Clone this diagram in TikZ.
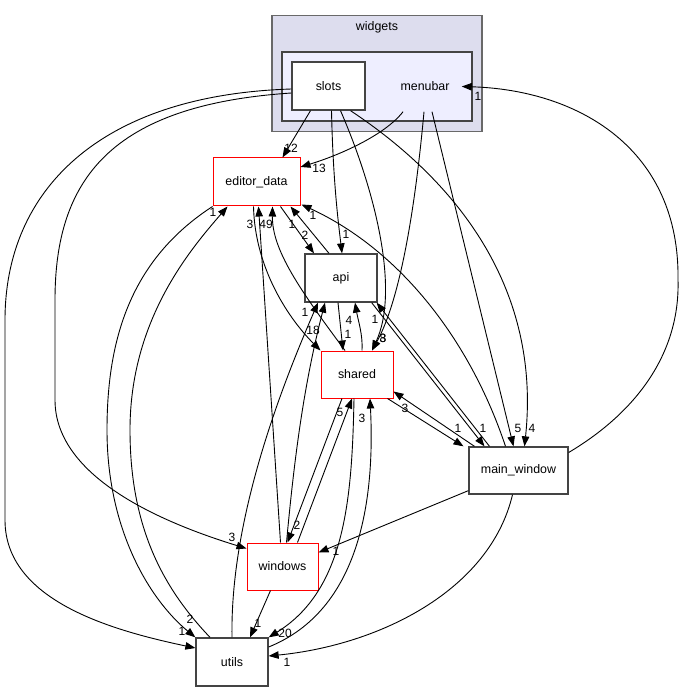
\documentclass[tikz,border=0pt]{standalone}
\usepackage{fontspec}
\setmainfont{Liberation Sans}
\usetikzlibrary{arrows.meta,calc}
\definecolor{outerfill}{HTML}{DDDDEE}
\definecolor{innerfill}{HTML}{EEEEFF}
\definecolor{bordergray}{HTML}{444444}
\begin{document}
\begin{tikzpicture}[x=1pt,y=-1pt,
  dirbox/.style={draw=bordergray,line width=1.3pt,fill=white,inner sep=0pt,font=\fontsize{12.4}{14}\selectfont},
  redbox/.style={draw=red,line width=1pt,fill=white,inner sep=0pt,font=\fontsize{12.4}{14}\selectfont},
  dep/.style={line width=0.9pt,-{Triangle[length=10pt,width=7.5pt]}},
  lab/.style={inner sep=0pt,font=\fontsize{12}{14}\selectfont}]
\useasboundingbox (0,0) rectangle (685,692);
% clusters
\node[draw=bordergray!80,line width=1.5pt,fill=outerfill,minimum width=210pt,minimum height=116pt,inner sep=0pt] (widgets) at (377,73.5) {};
\node[font=\fontsize{12.4}{14}\selectfont,inner sep=0pt] (widgetslab) at (377,27) {widgets};
\node[draw=bordergray,line width=1.5pt,fill=innerfill,minimum width=190pt,minimum height=69pt,inner sep=0pt] (menubar) at (377,86.5) {};
\node[font=\fontsize{12.4}{14}\selectfont,inner sep=0pt] (menubarlab) at (425,86) {menubar};
% nodes
\node[dirbox,minimum width=73pt,minimum height=48pt] (slots) at (328.5,86) {slots};
\node[redbox,minimum width=87pt,minimum height=48pt] (ed) at (256.5,182) {editor\_data};
\node[dirbox,minimum width=72pt,minimum height=48pt] (api) at (341,278) {api};
\node[redbox,minimum width=72pt,minimum height=47pt] (shared) at (357,374.5) {shared};
\node[dirbox,minimum width=99pt,minimum height=47pt] (mw) at (518.5,470.5) {main\_window};
\node[redbox,minimum width=71pt,minimum height=47pt] (win) at (282.5,566.5) {windows};
\node[dirbox,minimum width=72pt,minimum height=48pt] (utils) at (232,662) {utils};
% edges
\draw[dep] ($(slots.south)+(-18,0)$) -- ($(ed.north)+(26,0)$);
\draw[dep] ($(menubar.south)+(26,-10)$) .. controls (385,135) and (340,155) .. ($(ed.east)+(0,-15)$);
\draw[dep] ($(slots.south)+(3,0)$) .. controls (333,180) and (338,220) .. ($(api.north)+(1,0)$);
\draw[dep] ($(slots.south)+(12,0)$) .. controls (375,190) and (400,290) .. ($(shared.north)+(15,0)$);
\draw[dep] ($(menubar.south)+(47,-10)$) .. controls (415,210) and (400,300) .. ($(shared.north)+(15,0)$);
\draw[dep] ($(slots.south)+(22,0)$) .. controls (470,190) and (540,300) .. ($(mw.north)+(6,0)$);
\draw[dep] ($(menubar.south)+(55,-10)$) -- ($(mw.north)+(-5,0)$);
\draw[dep] ($(slots.west)+(0,7)$) .. controls (110,105) and (55,180) .. (55,300) -- (55,400) .. controls (55,480) and (170,525) .. ($(win.west)+(0,-18)$);
\draw[dep] ($(slots.west)+(0,3)$) .. controls (100,95) and (5,190) .. (5,320) -- (5,520) .. controls (5,600) and (110,630) .. ($(utils.west)+(0,-14)$);
\draw[dep] ($(ed.south)+(24,0)$) -- ($(api.north)+(-27,0)$);
\draw[dep] ($(api.north)+(-12,0)$) -- ($(ed.south)+(34,0)$);
\draw[dep] ($(mw.north)+(-13,0)$) .. controls (470,340) and (400,250) .. ($(ed.south east)+(1,-2)$);
\draw[dep] ($(shared.north)+(-12,0)$) .. controls (300,290) and (272,250) .. ($(ed.south)+(16,0)$);
\draw[dep] ($(ed.south)+(-3,0)$) .. controls (255,270) and (290,320) .. (shared.north west);
\draw[dep] ($(win.north)+(-2,0)$) -- ($(ed.south)+(2,0)$);
\draw[dep] (ed.south west) .. controls (130,260) and (107,340) .. (107,430) .. controls (107,530) and (150,600) .. (utils.north west);
\draw[dep] ($(utils.north)+(-22,0)$) .. controls (165,590) and (130,530) .. (130,430) .. controls (130,320) and (190,250) .. ($(ed.south)+(-29,0)$);
\draw[dep] (utils.north) .. controls (230,520) and (280,390) .. ($(api.south)+(-23,0)$);
\draw[dep] ($(win.north)+(4,0)$) .. controls (295,450) and (305,380) .. ($(api.south)+(-16,0)$);
\draw[dep] ($(api.south)+(-3,0)$) -- ($(shared.north)+(-14,0)$);
\draw[dep] ($(shared.north)+(5,0)$) .. controls (363,335) and (358,320) .. ($(api.south)+(14,0)$);
\draw[dep] ($(mw.north)+(-29,0)$) -- ($(api.south east)+(-1,0)$);
\draw[dep] ($(api.south east)+(-6,0)$) -- ($(mw.north)+(-34,0)$);
\draw[dep] ($(shared.south east)+(-6,0)$) -- ($(mw.north)+(-55,0)$);
\draw[dep] ($(mw.north)+(-44,0)$) -- ($(shared.east)+(0,17)$);
\draw[dep] ($(shared.south)+(-15,0)$) -- ($(win.north)+(5,0)$);
\draw[dep] ($(win.north)+(15,0)$) -- ($(shared.south)+(-5,0)$);
\draw[dep] ($(shared.south)+(-3,0)$) .. controls (352,500) and (345,590) .. (utils.north east);
\draw[dep] ($(utils.east)+(0,-15)$) .. controls (360,610) and (375,500) .. ($(shared.south)+(13,0)$);
\draw[dep] ($(mw.south west)+(0,-4)$) -- ($(win.east)+(0,-14)$);
\draw[dep] ($(mw.south)+(-6,0)$) .. controls (490,590) and (380,645) .. ($(utils.east)+(0,-6)$);
\draw[dep] ($(win.south)+(-12,0)$) -- ($(utils.north)+(18,0)$);
\draw[dep] ($(mw.east)+(0,-18)$) .. controls (640,410) and (680,350) .. (678,280) .. controls (680,150) and (580,90) .. ($(menubar.east)+(-11,0)$);
% labels
\node[lab] (l1) at (291,148) {12};
\node[lab] (l2) at (319,168) {13};
\node[lab] (l3) at (478,96) {1};
\node[lab] (l4) at (213,212) {1};
\node[lab] (l5) at (250,224) {3};
\node[lab] (l6) at (266,224) {49};
\node[lab] (l7) at (292,224) {1};
\node[lab] (l8) at (313,215) {1};
\node[lab] (l9) at (305,235) {2};
\node[lab] (l10) at (346,234) {1};
\node[lab] (l11) at (305,312) {1};
\node[lab] (l12) at (313,330) {18};
\node[lab] (l13) at (349,320) {4};
\node[lab] (l14) at (348,334) {1};
\node[lab] (l15) at (375,319) {1};
\node[lab] (l16) at (383,338) {3};
\node[lab] (l17) at (383,338) {8};
\node[lab] (l18) at (405,408) {3};
\node[lab] (l19) at (458,428) {1};
\node[lab] (l20) at (483,428) {1};
\node[lab] (l21) at (518,428) {5};
\node[lab] (l22) at (532,428) {4};
\node[lab] (l23) at (340,412) {5};
\node[lab] (l24) at (362,418) {3};
\node[lab] (l25) at (232,537) {3};
\node[lab] (l26) at (297,525) {2};
\node[lab] (l27) at (336,551) {1};
\node[lab] (l28) at (190,619) {2};
\node[lab] (l29) at (182,631) {1};
\node[lab] (l30) at (258,623) {1};
\node[lab] (l31) at (285,633) {20};
\node[lab] (l32) at (287,662) {1};
\end{tikzpicture}
\end{document}
